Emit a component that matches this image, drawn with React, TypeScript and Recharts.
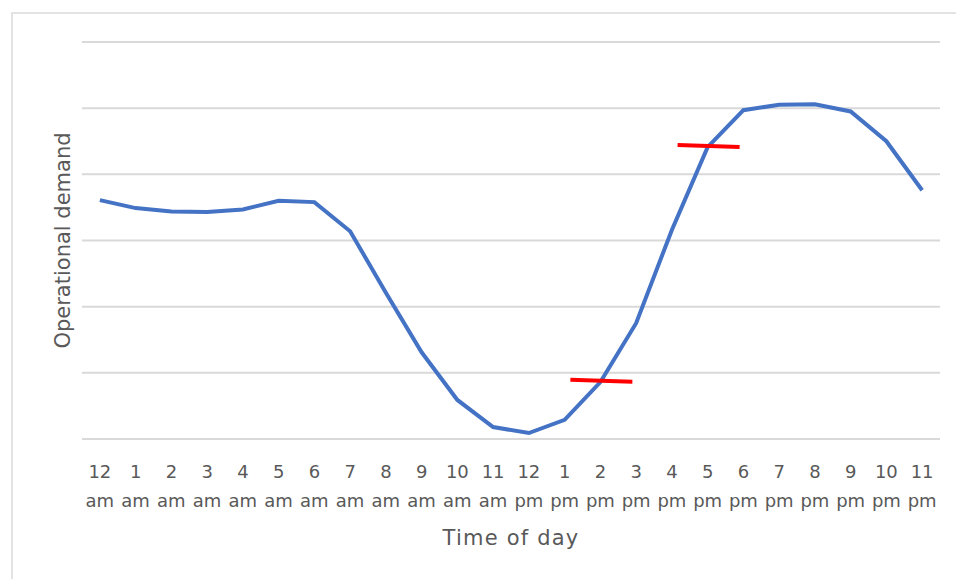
import React from 'react';
import { ComposedChart, Line, XAxis, YAxis, CartesianGrid } from 'recharts';

const HOURS = [
  '12 am', '1 am', '2 am', '3 am', '4 am', '5 am', '6 am', '7 am', '8 am', '9 am', '10 am', '11 am',
  '12 pm', '1 pm', '2 pm', '3 pm', '4 pm', '5 pm', '6 pm', '7 pm', '8 pm', '9 pm', '10 pm', '11 pm',
];

const DEMAND = [
  3.61, 3.49, 3.44, 3.43, 3.47, 3.6, 3.58, 3.14, 2.21, 1.31, 0.59, 0.18,
  0.09, 0.29, 0.86, 1.75, 3.16, 4.41, 4.97, 5.05, 5.06, 4.95, 4.5, 3.76,
];

// short red markers, keyed by hour label
const MARKERS: Record<string, number> = { '2 pm': 0.88, '5 pm': 4.43 };

const Y_TICKS = [0, 1, 2, 3, 4, 5, 6];

const data = HOURS.map((h, i) => ({
  hour: h,
  demand: DEMAND[i],
  marker: MARKERS[h] ?? null,
}));

const FONT = '"DejaVu Sans", sans-serif';
const TEXT = '#595959';

const HourTick = (props: any) => {
  const { x, y, payload } = props;
  const [num, half] = String(payload.value).split(' ');
  return (
    <g transform={`translate(${x},${y})`}>
      <text x={0} y={0} dy={31} textAnchor="middle" fill={TEXT} fontSize={18} fontFamily={FONT}>
        {num}
      </text>
      <text x={0} y={0} dy={60} textAnchor="middle" fill={TEXT} fontSize={18} fontFamily={FONT}>
        {half}
      </text>
    </g>
  );
};

const MarkerDot = (props: any) => {
  const { cx, cy, value, index } = props;
  if (value == null || cx == null || cy == null || isNaN(cy)) return <g key={`m-${index}`} />;
  return (
    <line
      key={`m-${index}`}
      x1={cx - 30}
      x2={cx + 32}
      y1={cy - 1}
      y2={cy + 1}
      stroke="#ff0000"
      strokeWidth={4}
    />
  );
};

export default function App() {
  return (
    <div style={{ position: 'absolute', left: 0, top: 0, width: 956, height: 579, overflow: 'hidden', background: '#fff' }}>
      <div
        style={{
          position: 'absolute',
          left: 11,
          top: 12,
          width: 960,
          height: 590,
          border: '2px solid #e3e3e3',
          boxSizing: 'border-box',
        }}
      />
      <div style={{ position: 'absolute', left: 0, top: 0 }}>
        <ComposedChart width={956} height={579} data={data} margin={{ top: 42, right: 16, bottom: 30, left: 0 }}>
          <CartesianGrid vertical={false} stroke="#d9d9d9" strokeWidth={2} />
          <XAxis
            dataKey="hour"
            scale="band"
            axisLine={false}
            tickLine={false}
            interval={0}
            height={110}
            tick={<HourTick />}
            label={{
              value: 'Time of day',
              position: 'insideBottom',
              offset: 4,
              style: { fill: TEXT, fontSize: 21, fontFamily: FONT, letterSpacing: 1.2 },
            }}
          />
          <YAxis
            type="number"
            domain={[0, 6]}
            ticks={Y_TICKS}
            tickCount={7}
            interval={0}
            tick={() => <g />}
            axisLine={false}
            tickLine={false}
            width={82}
            label={{
              value: 'Operational demand',
              angle: -90,
              position: 'insideLeft',
              offset: 63,
              style: { textAnchor: 'middle', fill: TEXT, fontSize: 21, fontFamily: FONT },
            }}
          />
          <Line
            type="linear"
            dataKey="demand"
            stroke="#4472C4"
            strokeWidth={4}
            dot={false}
            activeDot={false}
            isAnimationActive={false}
          />
          <Line
            type="linear"
            dataKey="marker"
            stroke="none"
            dot={<MarkerDot />}
            activeDot={false}
            isAnimationActive={false}
          />
        </ComposedChart>
      </div>
    </div>
  );
}
